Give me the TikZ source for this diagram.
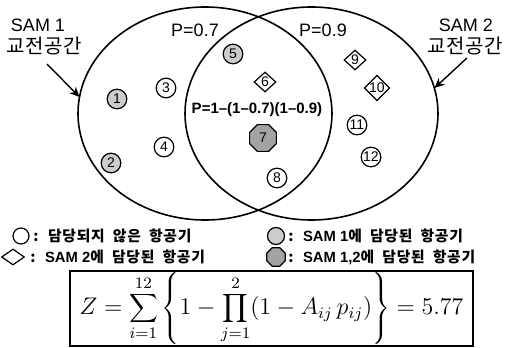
\documentclass[tikz,border=0pt]{standalone}
\usepackage{fontspec}
\setmainfont{Liberation Sans}
\newfontfamily\kr{Noto Sans CJK KR}[LetterSpace=3]
\newfontfamily\krsp{Noto Sans CJK KR}[LetterSpace=5]
\newcommand{\legfont}{\krsp\bfseries\fontsize{7.4}{9}\selectfont\spaceskip=0.55em\relax}
\newcommand{\lat}[1]{{\rmfamily\bfseries\spaceskip=0pt\relax #1}}
\usetikzlibrary{arrows.meta,shapes.geometric}

\begin{document}
\begin{tikzpicture}[x=0.5pt,y=-0.5pt,>={Stealth[length=5pt,width=4.5pt]},font=\fontsize{9}{10}\selectfont,
  zone/.style={line width=0.8pt},
  ac/.style={circle,draw,line width=0.6pt,inner sep=0pt,minimum size=9.8pt,font=\fontsize{7}{8}\selectfont},
  free/.style={ac,fill=white},
  byone/.style={ac,fill=gray!40},
  bytwo/.style={ac,diamond,fill=white,minimum width=11pt,minimum height=10pt},
  byboth/.style={ac,regular polygon,regular polygon sides=8,minimum size=14.5pt,fill=gray!72},
  note/.style={anchor=west,inner sep=0pt}]
\useasboundingbox (0,0) rectangle (511,348);

% engagement zones
\coordinate (o1) at (205,113.5);
\coordinate (o2) at (311.5,113.5);
\draw[zone] (o1) ellipse [x radius=127,y radius=106.5];
\draw[zone] (o2) ellipse [x radius=126.5,y radius=106.5];

% zone labels
\node (s1) at (38,25) {SAM 1};
\node[font=\kr\fontsize{10}{11}\selectfont] (k1) at (44,46) {교전공간};
\node (s2) at (466,25) {SAM 2};
\node[font=\kr\fontsize{10}{11}\selectfont] (k2) at (465,46) {교전공간};
\coordinate (a1) at (47,64);
\coordinate (e1) at (79.5,97);
\coordinate (a2) at (467,58);
\coordinate (e2) at (434.5,88);
\draw[->,line width=0.7pt] (a1) -- (e1);
\draw[->,line width=0.7pt] (a2) -- (e2);

% kill probabilities
\node (p1) at (195,30) {P=0.7};
\node (p2) at (323,30) {P=0.9};
\node[font=\bfseries\fontsize{7.5}{8}\selectfont,inner sep=0pt] (pc) at (257,110) {P=1--(1--0.7)(1--0.9)};

% aircraft
\foreach \i/\s/\x/\y in {1/byone/117/99, 2/byone/111/163, 3/free/166/88, 4/free/164/147,
  5/byone/233/54, 6/bytwo/265/82, 7/byboth/263/138, 8/free/277/178,
  9/bytwo/355/60, 10/bytwo/377/88, 11/free/357/125, 12/free/371/157}
  \node[\s] (n\i) at (\x,\y) {\i};

% legend
\node[free,minimum size=8pt] (l1) at (21,236) {};
\node[note] (d1) at (33,236) {\legfont : 담당되지 않은 항공기};
\node[bytwo,minimum width=11.5pt,minimum height=8pt] (l2) at (13,257) {};
\node[note] (d2) at (30,257) {\legfont : \lat{SAM 2}에 담당된 항공기};
\node[byone,minimum size=8.5pt] (l3) at (276,236) {};
\node[note] (d3) at (288,236) {\legfont : \lat{SAM 1}에 담당된 항공기};
\node[byboth,minimum size=10pt] (l4) at (276,257) {};
\node[note] (d4) at (288,257) {\legfont : \lat{SAM 1,2}에 담당된 항공기};

% objective
\node[draw,line width=0.7pt,minimum width=201.5pt,minimum height=37.5pt,inner sep=0pt,
  font=\fontsize{11.5}{14}\selectfont] (eq) at (271.5,308.5)
  {$\displaystyle Z=\sum_{i=1}^{12}\left\{1-\prod_{j=1}^{2}(1-A_{ij}\,p_{ij})\right\}=5.77$};
\end{tikzpicture}
\end{document}
